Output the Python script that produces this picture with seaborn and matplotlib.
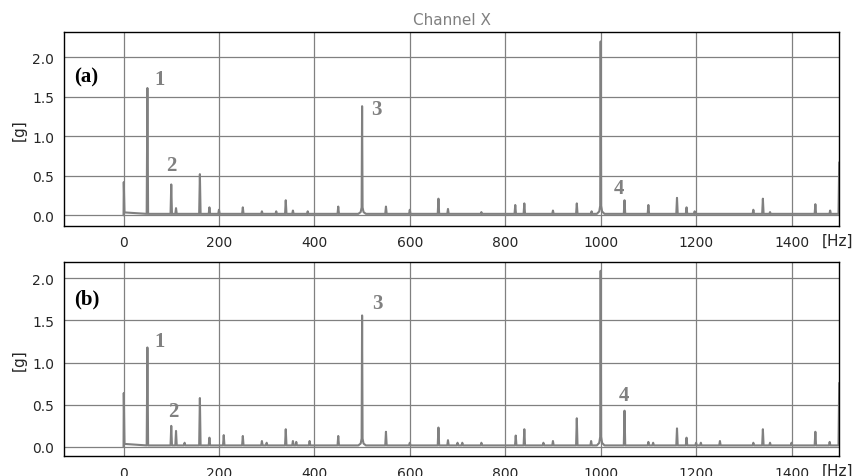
import numpy as np
import pandas as pd
import matplotlib
matplotlib.use("Agg")
import matplotlib.pyplot as plt
import seaborn as sns

# Peak frequencies [Hz] and amplitudes [g]
freq_a = [0, 50, 100, 110, 160, 180, 200, 250, 290, 320, 340, 355, 386, 450,
          500, 550, 600, 660, 680, 750, 821, 840, 900, 950, 981, 1000,
          1050, 1100, 1160, 1180, 1197, 1320, 1340, 1355, 1450, 1481, 1500]
amp_a = [0.42, 1.61, 0.39, 0.09, 0.52, 0.10, 0.07, 0.10, 0.05, 0.05, 0.19, 0.06, 0.05, 0.11,
         1.38, 0.11, 0.07, 0.21, 0.08, 0.04, 0.13, 0.15, 0.06, 0.15, 0.05, 2.20,
         0.19, 0.13, 0.22, 0.10, 0.05, 0.07, 0.21, 0.04, 0.14, 0.06, 0.67]

freq_b = [0, 50, 100, 110, 128, 160, 180, 210, 250, 290, 300, 340, 355, 362, 390, 450,
          500, 550, 600, 660, 680, 700, 710, 750, 822, 840, 880, 900, 950, 980, 1000,
          1050, 1100, 1110, 1160, 1180, 1200, 1210, 1250, 1320, 1340, 1355, 1400, 1450, 1480, 1500]
amp_b = [0.64, 1.18, 0.25, 0.19, 0.05, 0.58, 0.11, 0.14, 0.13, 0.07, 0.05, 0.21, 0.07, 0.06, 0.07, 0.13,
         1.56, 0.18, 0.05, 0.23, 0.08, 0.05, 0.05, 0.05, 0.135, 0.21, 0.05, 0.07, 0.34, 0.07, 2.09,
         0.43, 0.06, 0.05, 0.22, 0.11, 0.05, 0.05, 0.07, 0.05, 0.21, 0.05, 0.05, 0.18, 0.06, 0.76]

# noise floor level and the skirt around the strongest peaks
floor_level = 0.018
skirt_freq = [500, 1000]
skirt_amp = [0.10, 0.12]

# peak labels
label_a = {"1": (75, 1.73), "2": (100, 0.64), "3": (530, 1.34), "4": (1038, 0.35)}
label_b = {"1": (75, 1.26), "2": (105, 0.43), "3": (533, 1.71), "4": (1048, 0.62)}


def spectrum(freqs, amps):
    f_out, a_out = [], []
    for f, a in zip(freqs, amps):
        if f in skirt_freq:
            s = skirt_amp[skirt_freq.index(f)]
            f_out += [f - 8, f - 3, f - 1, f, f + 1, f + 3, f + 8]
            a_out += [floor_level, s * 0.4, s, a, s, s * 0.4, floor_level]
        elif f == 0:
            f_out += [0, 0.5, 2]
            a_out += [0, a, floor_level * 2]
        elif f == 1500:
            f_out += [f - 1.5, f]
            a_out += [floor_level, a]
        else:
            f_out += [f - 1.5, f, f + 1.5]
            a_out += [floor_level, a, floor_level]
    return pd.DataFrame({"Hz": f_out, "g": a_out})


sns.set_style("white")
plt.rcParams["axes.edgecolor"] = "black"

fig, axes = plt.subplots(2, 1, figsize=(8.52, 4.77), dpi=100)
fig.subplots_adjust(left=0.075, right=0.985, top=0.931, bottom=0.042, hspace=0.19)

panels = [(freq_a, amp_a, label_a, "(a)", 1.76, (-0.13, 2.32)),
          (freq_b, amp_b, label_b, "(b)", 1.76, (-0.107, 2.19))]
for ax, (fr, am, labels, tag, tag_y, ylim) in zip(axes, panels):
    df = spectrum(fr, am)
    sns.lineplot(data=df, x="Hz", y="g", ax=ax, color="gray", linewidth=1.5,
                 estimator=None, sort=False)
    ax.set_xlim(-125, 1500)
    ax.set_ylim(*ylim)
    ax.grid(True, color="gray", linewidth=0.9)
    ax.set_axisbelow(True)
    ax.tick_params(direction="out", length=3.5, color="black", labelsize=10)
    ax.set_xticks([0, 200, 400, 600, 800, 1000, 1200, 1400])
    ax.set_yticks([0.0, 0.5, 1.0, 1.5, 2.0])
    ax.set_ylabel("[g]", fontsize=11)
    ax.set_xlabel("[Hz]", fontsize=11)
    ax.xaxis.set_label_coords(0.998, -0.035)
    for spine in ax.spines.values():
        spine.set_visible(True)
        spine.set_linewidth(1.0)
    ax.text(-78, tag_y, tag, family="Liberation Serif", fontweight="bold",
            fontsize=15, color="black", ha="center", va="center")
    for txt, (x, y) in labels.items():
        ax.text(x, y, txt, family="Liberation Serif", fontweight="bold",
                fontsize=15, color="gray", ha="center", va="center")

axes[0].set_title("Channel X", color="gray", fontsize=11)

fig.savefig("out.png", dpi=100)
